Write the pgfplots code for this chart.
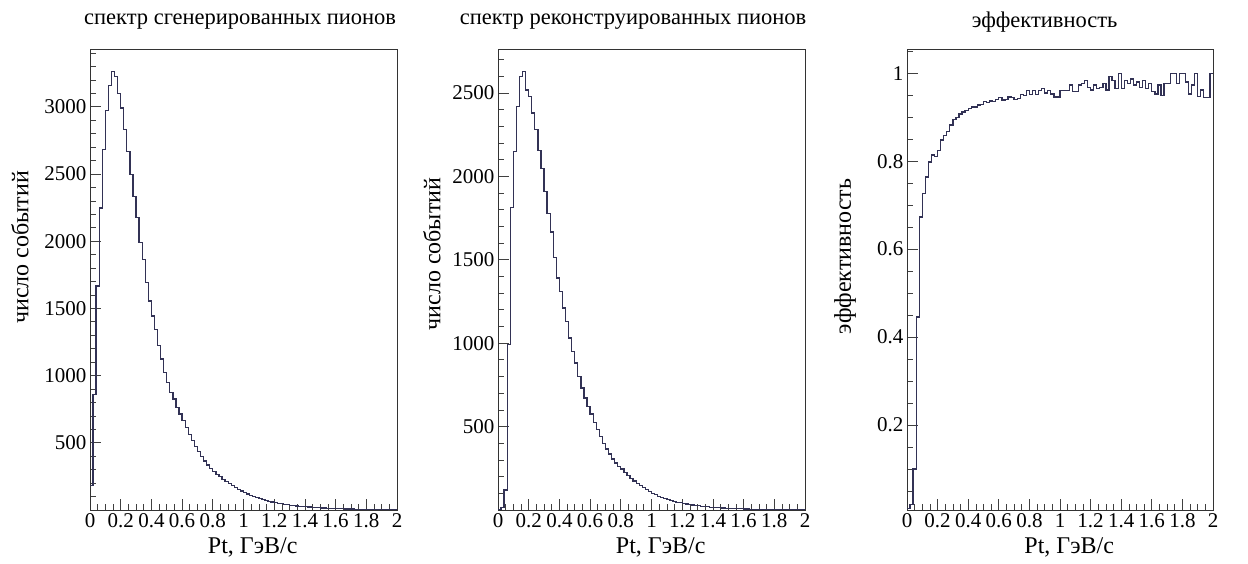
\documentclass[border=0pt]{standalone}
\usepackage{fontspec}
\setmainfont{Liberation Serif}
\usepackage{pgfplots}
\usepackage{pgfplotstable}
\pgfplotsset{compat=1.18}
\definecolor{hist}{RGB}{50,50,85}

\pgfplotstableread{
x y
0.00 180
0.02 858
0.04 1667
0.06 2248
0.08 2680
0.10 2972
0.12 3158
0.14 3262
0.16 3225
0.18 3101
0.20 2990
0.22 2829
0.24 2668
0.26 2495
0.28 2334
0.30 2174
0.32 1988
0.34 1865
0.36 1691
0.38 1555
0.40 1444
0.42 1345
0.44 1222
0.46 1123
0.48 1024
0.50 950
0.52 875
0.54 826
0.56 764
0.58 715
0.60 665
0.62 616
0.64 560
0.66 515
0.68 472
0.70 433
0.72 398
0.74 365
0.76 335
0.78 310
0.80 288
0.82 266
0.84 247
0.86 228
0.88 211
0.90 195
0.92 180
0.94 166
0.96 153
0.98 141
1.00 129
1.02 119
1.04 109
1.06 100
1.08 92
1.10 84
1.12 78
1.14 71
1.16 65
1.18 60
1.20 55
1.22 50
1.24 47
1.26 43
1.28 39
1.30 36
1.32 33
1.34 30
1.36 28
1.38 26
1.40 24
1.42 22
1.44 20
1.46 18
1.48 17
1.50 15
1.52 14
1.54 13
1.56 12
1.58 11
1.60 10
1.62 9
1.64 9
1.66 8
1.68 7
1.70 7
1.72 6
1.74 6
1.76 5
1.78 5
1.80 4
1.82 4
1.84 4
1.86 3
1.88 3
1.90 3
1.92 3
1.94 2
1.96 2
1.98 2
2.00 2
}\gen

\pgfplotstableread{
x y
0.00 2
0.02 15
0.04 120
0.06 991
0.08 1811
0.10 2148
0.12 2418
0.14 2597
0.16 2628
0.18 2518
0.20 2478
0.22 2379
0.24 2279
0.26 2153
0.28 2045
0.30 1909
0.32 1779
0.34 1666
0.36 1514
0.38 1390
0.40 1310
0.42 1210
0.44 1131
0.46 1031
0.48 951
0.50 881
0.52 801
0.54 732
0.56 672
0.58 622
0.60 575
0.62 525
0.64 482
0.66 440
0.68 400
0.70 365
0.72 335
0.74 305
0.76 282
0.78 260
0.80 245
0.82 225
0.84 207
0.86 190
0.88 174
0.90 160
0.92 146
0.94 133
0.96 121
0.98 110
1.00 100
1.02 91
1.04 83
1.06 76
1.08 69
1.10 63
1.12 57
1.14 52
1.16 47
1.18 43
1.20 39
1.22 36
1.24 33
1.26 30
1.28 27
1.30 25
1.32 23
1.34 21
1.36 19
1.38 17
1.40 16
1.42 14
1.44 13
1.46 12
1.48 11
1.50 10
1.52 9
1.54 8
1.56 8
1.58 7
1.60 6
1.62 6
1.64 5
1.66 5
1.68 5
1.70 4
1.72 4
1.74 4
1.76 3
1.78 3
1.80 3
1.82 3
1.84 3
1.86 2
1.88 2
1.90 2
1.92 2
1.94 2
1.96 2
1.98 2
2.00 2
}\rec

\pgfplotstableread{
x y
0.00 0.010
0.02 0.020
0.04 0.100
0.06 0.446
0.08 0.673
0.10 0.727
0.12 0.764
0.14 0.798
0.16 0.814
0.18 0.811
0.20 0.825
0.22 0.848
0.24 0.859
0.26 0.867
0.28 0.882
0.30 0.895
0.32 0.899
0.34 0.907
0.36 0.912
0.38 0.915
0.40 0.919
0.42 0.923
0.44 0.923
0.46 0.928
0.48 0.929
0.50 0.935
0.52 0.934
0.54 0.937
0.56 0.936
0.58 0.940
0.60 0.945
0.62 0.939
0.64 0.940
0.66 0.946
0.68 0.945
0.70 0.940
0.72 0.942
0.74 0.952
0.76 0.950
0.78 0.960
0.80 0.952
0.82 0.960
0.84 0.952
0.86 0.961
0.88 0.965
0.90 0.955
0.92 0.960
0.94 0.953
0.96 0.946
0.98 0.946
1.00 0.961
1.02 0.960
1.04 0.961
1.06 0.973
1.08 0.958
1.10 0.958
1.12 0.973
1.14 0.976
1.16 0.984
1.18 0.968
1.20 0.962
1.22 0.973
1.24 0.965
1.26 0.968
1.28 0.977
1.30 0.962
1.32 0.992
1.34 0.984
1.36 0.965
1.38 1.000
1.40 0.965
1.42 0.984
1.44 0.977
1.46 0.987
1.48 0.973
1.50 0.980
1.52 0.968
1.54 0.984
1.56 0.965
1.58 0.976
1.60 0.958
1.62 0.953
1.64 0.973
1.66 0.950
1.68 0.976
1.70 0.977
1.72 1.000
1.74 1.000
1.76 0.977
1.78 1.000
1.80 1.000
1.82 0.980
1.84 0.953
1.86 0.973
1.88 1.000
1.90 0.947
1.92 0.962
1.94 0.945
1.96 0.945
1.98 1.000
2.00 1.000
}\eff

\pgfplotsset{
  rootaxis/.style={
    scale only axis, width=307pt, height=461pt, anchor=south west,
    xmin=0, xmax=2,
    xtick={0,0.2,0.4,0.6,0.8,1,1.2,1.4,1.6,1.8,2},
    minor xtick={0,0.05,...,2},
    tick align=inside, xtick pos=bottom, ytick pos=left,
    major tick length=11pt, minor tick length=6pt,
    axis line style={line width=0.8pt, black!80},
    every tick/.style={black!75, line width=0.7pt},
    scaled ticks=false,
    /pgf/number format/1000 sep={},
    /pgf/number format/assume math mode=true,
    tick label style={font=\fontsize{21}{23}\selectfont},
    xlabel={Pt, ГэВ/c},
    xlabel style={font=\fontsize{24}{26}\selectfont, at={(axis description cs:0.53,-0.082)}, anchor=center},
    ylabel style={font=\fontsize{24}{26}\selectfont, anchor=center},
    title style={font=\fontsize{22.5}{24}\selectfont, anchor=center, yshift=0pt},
  },
  histline/.style={const plot mark left, color=hist, line width=1.3pt, mark=none},
}

\begin{document}
\begin{tikzpicture}
\useasboundingbox (0,0) rectangle (1248pt,563pt);

\begin{axis}[rootaxis, at={(90pt,53pt)},
  ymin=0, ymax=3430,
  ytick={500,1000,1500,2000,2500,3000},
  minor ytick={0,100,...,3400},
  ylabel={число событий},
  ylabel style={at={(axis description cs:-0.228,0.57)}},
  title={спектр сгенерированных пионов},
  title style={at={(axis description cs:0.489,1.046)}},
]
\addplot[histline] table[x=x,y=y] {\gen};
\end{axis}

\begin{axis}[rootaxis, at={(498pt,53pt)},
  ymin=0, ymax=2763,
  ytick={500,1000,1500,2000,2500},
  minor ytick={0,100,...,2700},
  ylabel={число событий},
  ylabel style={at={(axis description cs:-0.215,0.555)}},
  title={спектр реконструированных пионов},
  title style={at={(axis description cs:0.44,1.046)}},
]
\addplot[histline] table[x=x,y=y] {\rec};
\end{axis}

\begin{axis}[rootaxis, at={(907pt,53pt)}, width=306pt,
  ymin=0.007, ymax=1.055,
  ytick={0.2,0.4,0.6,0.8,1},
  minor ytick={0.05,0.1,...,1.05},
  ylabel={эффективность},
  ylabel style={at={(axis description cs:-0.202,0.55)}},
  title={эффективность},
  title style={at={(axis description cs:0.45,1.046)}},
]
\addplot[histline] table[x=x,y=y] {\eff};
\end{axis}
\end{tikzpicture}
\end{document}
